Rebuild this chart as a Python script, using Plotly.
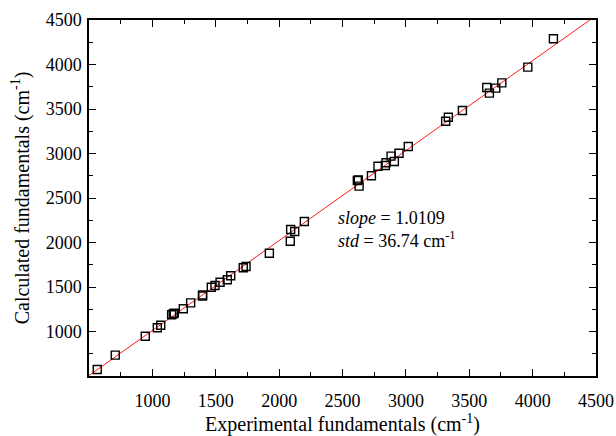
import plotly.graph_objects as go

exp_vals = [565, 707, 944, 1039, 1066, 1152, 1165, 1173, 1244, 1302, 1395, 1397,
            1465, 1494, 1534, 1591, 1618, 1717, 1739, 1923, 2088, 2091, 2123, 2199,
            2617, 2625, 2631, 2728, 2780, 2838, 2843, 2883, 2909, 2946, 3019,
            3314, 3335, 3446, 3638, 3659, 3709, 3757, 3962, 4164]
calc_vals = [573, 734, 947, 1042, 1071, 1188, 1199, 1206, 1255, 1322, 1399, 1410,
             1498, 1517, 1554, 1581, 1626, 1716, 1730, 1880, 2014, 2146, 2124, 2236,
             2697, 2704, 2633, 2750, 2857, 2865, 2896, 2970, 2910, 3003, 3079,
             3363, 3408, 3483, 3742, 3678, 3734, 3794, 3970, 4289]
slope = 1.0109
std = 36.74
fit_x = [500, 4500]
fit_y = [slope * v for v in fit_x]

major_ticks = [1000, 1500, 2000, 2500, 3000, 3500, 4000, 4500]
minor_ticks = [750, 1250, 1750, 2250, 2750, 3250, 3750, 4250]
axis_range = [500, 4500]

FONT = "Liberation Serif"

fig = go.Figure()
fig.add_trace(go.Scatter(x=fit_x, y=fit_y, mode="lines",
                         line=dict(color="#ff1a1a", width=1), showlegend=False))
fig.add_trace(go.Scatter(x=exp_vals, y=calc_vals, mode="markers",
                         marker=dict(symbol="square-open", size=8, color="black",
                                     line=dict(width=1.4, color="black")),
                         showlegend=False, cliponaxis=False))

axis_common = dict(
    range=axis_range, showgrid=False, zeroline=False, automargin=False,
    showline=True, linecolor="black", linewidth=1.5, mirror="ticks",
    ticks="inside", ticklen=7, tickwidth=1.3, tickcolor="black",
    tickmode="array", tickvals=major_ticks,
    minor=dict(tickmode="array", tickvals=minor_ticks, ticks="inside", ticklen=4,
               tickwidth=1.3, tickcolor="black", showgrid=False),
    tickfont=dict(family=FONT, size=18, color="black"),
)

fig.update_xaxes(**axis_common, ticklabelstandoff=8,
                 title=dict(text="Experimental fundamentals (cm<sup>-1</sup>)",
                            font=dict(family=FONT, size=20, color="black"), standoff=18))
fig.update_yaxes(**axis_common, ticklabelstandoff=2,
                 title=dict(text="Calculated fundamentals (cm<sup>-1</sup>)",
                            font=dict(family=FONT, size=20, color="black"), standoff=11))

fig.add_annotation(xref="paper", yref="paper", x=0.487, y=0.443, xanchor="left",
                   yanchor="middle", showarrow=False,
                   text=f"<i>slope</i> = {slope:.4f}",
                   font=dict(family=FONT, size=18, color="black"))
fig.add_annotation(xref="paper", yref="paper", x=0.487, y=0.384, xanchor="left",
                   yanchor="middle", showarrow=False,
                   text=f"<i>std</i> = {std:.2f} cm<sup>-1</sup>",
                   font=dict(family=FONT, size=18, color="black"))

fig.update_layout(width=616, height=436, margin=dict(l=89, r=20, t=20, b=60),
                  plot_bgcolor="white", paper_bgcolor="white")

fig.write_html("out.html")
